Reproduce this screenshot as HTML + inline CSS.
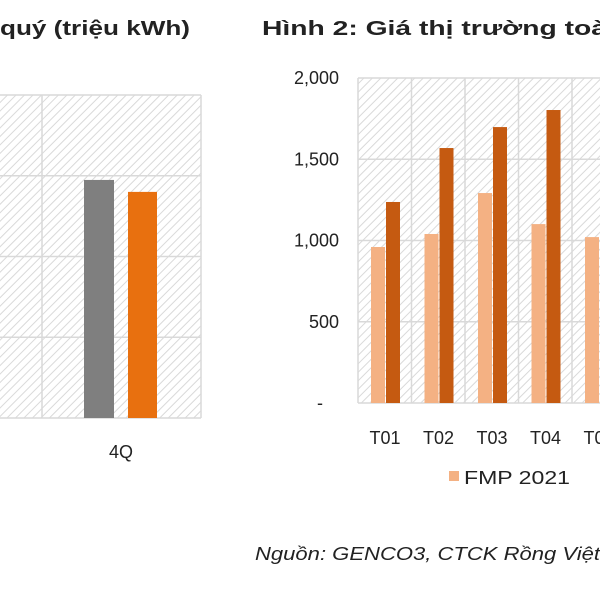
<!DOCTYPE html>
<html><head><meta charset="utf-8"><style>
body{margin:0;width:600px;height:600px;background:#fff;overflow:hidden;font-family:"Liberation Sans",sans-serif}
svg{position:absolute;left:0;top:0}
</style></head><body>
<svg width="600" height="600">
<defs><pattern id="hatch" width="6" height="6" patternUnits="userSpaceOnUse" patternTransform="rotate(45)"><rect width="6" height="6" fill="#fff"/><line x1="0" y1="0" x2="0" y2="6" stroke="#d9d9d9" stroke-width="2"/></pattern></defs>
<text x="0" y="35" font-size="20" font-weight="bold" fill="#222" textLength="190" lengthAdjust="spacingAndGlyphs">quý (triệu kWh)</text>
<text x="262" y="35" font-size="20" font-weight="bold" fill="#222" textLength="345" lengthAdjust="spacingAndGlyphs">Hình 2: Giá thị trường toà</text>
<g id="left"></g>
<g id="right"></g>
<rect x="449" y="471" width="10" height="10" fill="#f4b183"/>
<text x="464" y="484" font-size="18" fill="#222" textLength="106" lengthAdjust="spacingAndGlyphs">FMP 2021</text>
<text x="255" y="560" font-size="18" font-style="italic" fill="#222" textLength="345" lengthAdjust="spacingAndGlyphs">Nguồn: GENCO3, CTCK Rồng Việt</text>
</svg>
<script>
const leftCategories=["4Q"];
const leftSeriesA=[1474];
const leftSeriesB=[1400];
const leftTicks=[0,500,1000,1500,2000];
const rightCategories=["T01","T02","T03","T04","T05"];
const fmp2021=[960,1040,1292,1101,1021];
const fmp2022=[1237,1569,1698,1803,1700];
const rightTicks=[0,500,1000,1500,2000];
const rightTickLabels=["-","500","1,000","1,500","2,000"];
const NS="http://www.w3.org/2000/svg";
function mk(p,t,a){const e=document.createElementNS(NS,t);for(const k in a)e.setAttribute(k,a[k]);p.appendChild(e);return e;}
const L=document.getElementById('left');
const ly=v=>418-v/2000*323;
mk(L,'rect',{x:0,y:95,width:201,height:323,fill:'url(#hatch)'});
leftTicks.forEach(t=>{const l=mk(L,'line',{x1:0,x2:201,y1:ly(t),y2:ly(t),stroke:'#d9d9d9','stroke-width':1.5});

});
[42,201].forEach(x=>{const l=mk(L,'line',{x1:x,x2:x,y1:95,y2:418,stroke:'#d9d9d9','stroke-width':1.5});

});
leftCategories.forEach((c,i)=>{
 const a=mk(L,'rect',{x:84,y:ly(leftSeriesA[i]),width:30,height:418-ly(leftSeriesA[i]),fill:'#7f7f7f'});
 
 
 const b=mk(L,'rect',{x:128,y:ly(leftSeriesB[i]),width:29,height:418-ly(leftSeriesB[i]),fill:'#e8700f'});
 
 
 const t=mk(L,'text',{x:121,y:458,'font-size':18,'text-anchor':'middle',fill:'#222'});t.textContent=c;
 
 
});
const R=document.getElementById('right');
const x0=358,cw=53.5,y0=403,yh=325;
const ry=v=>y0-v/2000*yh;
mk(R,'rect',{x:x0,y:78,width:600-x0,height:yh,fill:'url(#hatch)'});
rightTicks.forEach((t,i)=>{const l=mk(R,'line',{x1:x0,x2:600,y1:ry(t),y2:ry(t),stroke:'#d9d9d9','stroke-width':1.5});
 
 
 const tx=mk(R,'text',{x:i==0?320:339,y:ry(t)+6,'font-size':18,'text-anchor':i==0?'middle':'end',fill:'#222'});tx.textContent=rightTickLabels[i];
 
 });
rightCategories.forEach((c,i)=>{
 const cx=x0+i*cw;
 const v=mk(R,'line',{x1:cx,x2:cx,y1:78,y2:y0,stroke:'#d9d9d9','stroke-width':1.5});
 
 
 const a=mk(R,'rect',{x:cx+13,y:ry(fmp2021[i]),width:14,height:y0-ry(fmp2021[i]),fill:'#f4b183'});
 
 
 const b=mk(R,'rect',{x:cx+28,y:ry(fmp2022[i]),width:14,height:y0-ry(fmp2022[i]),fill:'#c55a11'});
 
 
 const t=mk(R,'text',{x:cx+27,y:444,'font-size':18,'text-anchor':'middle',fill:'#222'});t.textContent=c;
 
 
});
</script>
</body></html>
